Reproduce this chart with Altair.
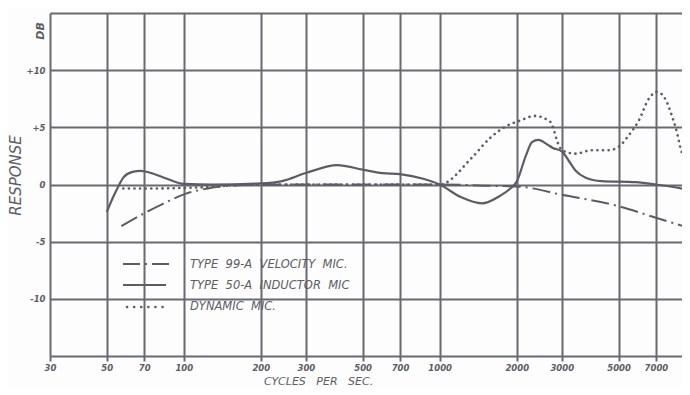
import altair as alt
import pandas as pd

# ---- data ----
ind_freq = [50, 52.7, 56, 58, 63, 68, 77, 86, 100, 130, 200, 242, 300, 398, 500, 597, 700, 862, 1000,
            1209, 1462, 1718, 1889, 2000, 2170, 2295, 2430, 2634, 2766, 3000, 3190, 3400, 3720, 4290,
            5840, 7000, 8080, 9450]
ind_db = [-2.4, -1.2, 0.0, 0.6, 1.1, 1.2, 0.9, 0.5, 0.05, 0.0, 0.1, 0.3, 1.0, 1.7, 1.3, 1.0, 0.9, 0.5, 0.0,
          -1.1, -1.65, -1.0, -0.35, 0.25, 2.5, 3.7, 3.9, 3.5, 3.2, 2.9, 2.1, 1.2, 0.6, 0.3,
          0.2, 0.0, -0.2, -0.5]

vel_freq = [57, 73, 81, 102, 124, 144, 200, 300, 500, 700, 1000, 1500, 2065, 3000, 5000, 6755, 9450]
vel_db = [-3.65, -2.3, -1.8, -0.8, -0.35, -0.15, 0.0, 0.0, 0.0, 0.0, 0.0, -0.1, -0.2, -0.9, -1.9, -2.8, -3.8]

dyn_freq = [58, 70, 100, 130, 160, 200, 500, 1000, 1330, 1562, 1818, 2065, 2351, 2700, 2926, 3000,
            3400, 3928, 4571, 5000, 5479, 6000, 6566, 7063, 7650, 8080, 8380, 8780, 9450]
dyn_db = [-0.35, -0.35, -0.3, -0.2, -0.05, 0.0, 0.0, 0.0, 2.3, 4.0, 5.1, 5.6, 6.0, 5.5, 3.4, 3.0,
          2.7, 3.0, 3.0, 3.3, 4.3, 5.6, 7.5, 8.1, 7.4, 6.0, 4.9, 3.0, 1.8]

NB = "\u00a0"
series_names = ["TYPE" + NB * 2 + "99-A" + NB * 2 + "VELOCITY" + NB * 2 + "MIC.",
                "TYPE" + NB * 2 + "50-A" + NB * 2 + "INDUCTOR" + NB * 2 + "MIC",
                "DYNAMIC" + NB * 2 + "MIC."]
x_title = "CYCLES" + NB * 3 + "PER" + NB * 3 + "SEC."
x_ticks = [30, 50, 70, 100, 200, 300, 500, 700, 1000, 2000, 3000, 5000, 7000]
y_ticks = [-15, -10, -5, 0, 5, 10, 15]

INK = "#5c5c66"
GRID = "#696972"
FONT = "DejaVu Sans"
W, H = 632, 343

rows = []
for f, d in zip(vel_freq, vel_db):
    rows.append({"series": "vel", "freq": f, "db": d})
for f, d in zip(ind_freq, ind_db):
    rows.append({"series": "ind", "freq": f, "db": d})
for f, d in zip(dyn_freq, dyn_db):
    rows.append({"series": "dyn", "freq": f, "db": d})
df = pd.DataFrame(rows)

xscale = alt.Scale(type="log", domain=[30, 8850], nice=False)
yscale = alt.Scale(domain=[-15, 15], nice=False, zero=False)

xaxis = alt.Axis(values=x_ticks, grid=True, gridColor=GRID, gridWidth=2, gridOpacity=1,
                 domain=False, ticks=True, tickSize=5, tickColor=GRID, tickWidth=2,
                 labelFont=FONT, labelFontSize=8.5, labelFontStyle="italic", labelFontWeight="bold",
                 labelColor=INK, labelPadding=2, labelFlush=False, labelOverlap=False,
                 labelExpr="format(datum.value, 'd')",
                 title=x_title, titleFont=FONT, titleFontSize=11,
                 titleFontStyle="italic",
                 titleFontWeight="normal", titleColor=INK, titleX=268, titleY=25,
                 titleBaseline="middle", titleAnchor="middle", titleAlign="center")
yaxis = alt.Axis(values=y_ticks, grid=True, gridColor=GRID, gridWidth=2, gridOpacity=1,
                 domain=False, ticks=False, labelFont=FONT, labelFontSize=8.5,
                 labelFontStyle="italic", labelFontWeight="bold", labelColor=INK, labelPadding=5,
                 labelExpr="abs(datum.value) == 15 ? '' : (datum.value > 0 ? '+' + datum.value : '' + datum.value)",
                 title="RESPONSE", titleFont=FONT, titleFontSize=15, titleFontStyle="italic",
                 titleFontWeight="normal", titleColor=INK, titleX=-35, titleY=162,
                 titleAngle=270, titleBaseline="middle", titleAlign="center")

base = alt.Chart(df)

def curve(key, **kw):
    return base.transform_filter(alt.datum.series == key).mark_line(
        color=INK, clip=True, interpolate="monotone", **kw
    ).encode(
        x=alt.X("freq:Q", scale=xscale, axis=xaxis),
        y=alt.Y("db:Q", scale=yscale, axis=yaxis),
    )

vel = curve("vel", strokeWidth=2, strokeDash=[18, 5, 2, 5])
ind = curve("ind", strokeWidth=2.2)
dyn = curve("dyn", strokeWidth=2.6, strokeDash=[0.1, 5.5], strokeCap="round")

def label(text, px, py, **kw):
    return alt.Chart(pd.DataFrame({"t": [text]})).mark_text(
        font=FONT, color=INK, **kw
    ).encode(text="t:N", x=alt.value(px), y=alt.value(py))

# DB unit label
db_label = label("DB", -9, 18, fontSize=11, fontStyle="italic", fontWeight="bold", angle=270,
                 align="center", baseline="middle")

# manual legend
leg_texts = [label(series_names[i], 140, yy, fontSize=11.5, fontStyle="italic",
                   align="left", baseline="middle")
             for i, yy in enumerate([252, 273, 294])]

def leg_line(row_y, x1, x2, **kw):
    return alt.Chart(pd.DataFrame({"k": [0]})).mark_rule(color=INK, **kw).encode(
        x=alt.value(x1), x2=alt.value(x2), y=alt.value(row_y))

leg1 = leg_line(251, 73, 124, strokeWidth=2, strokeDash=[17, 5, 2, 5])
leg2 = leg_line(272, 73, 116, strokeWidth=2.2)
leg3 = leg_line(294, 77, 118, strokeWidth=2.6, strokeDash=[0.1, 7], strokeCap="round")

chart = alt.layer(vel, ind, dyn, db_label, *leg_texts, leg1, leg2, leg3).properties(
    width=W, height=H, background="#fdfdfd",
    padding={"left": 42, "top": 5, "right": 0, "bottom": 31},
    autosize=alt.AutoSizeParams(type="none")
).configure_view(strokeWidth=0)

chart.save("out.html", embed_options={"renderer": "svg", "actions": False})
